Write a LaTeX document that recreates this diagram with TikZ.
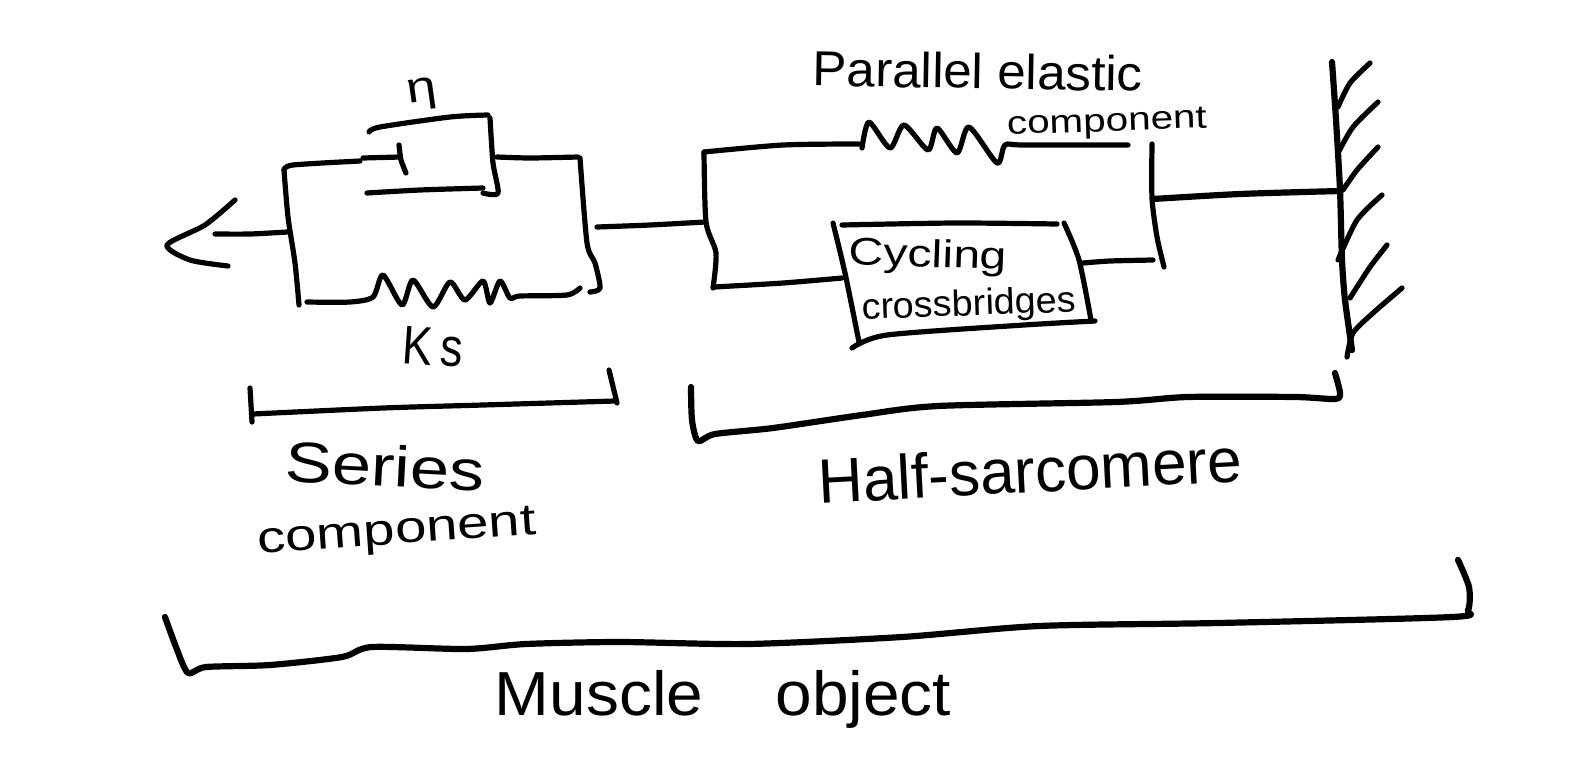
\documentclass[tikz,border=0pt]{standalone}
\usepackage{graphicx}
\usepackage{fontspec}
\setmainfont{Liberation Sans}
\tikzset{
  ink/.style={draw=black,line width=5.2pt,line cap=round,line join=round},
  inkb/.style={draw=black,line width=6.2pt,line cap=round,line join=round},
  hand/.style={inner sep=0pt,outer sep=0pt,text=black}
}
\newcommand{\lbl}[6]{\node[hand,rotate=#5] (#1) at (#2) {\resizebox*{#3pt}{#4pt}{#6}};}
\newcommand{\sk}[2][ink]{\draw[#1] plot[smooth,tension=.45] coordinates {#2};}
\begin{document}
\begin{tikzpicture}[x=1pt,y=-1pt]
\useasboundingbox (0,0) rectangle (1584,769);
\fill[white] (0,0) rectangle (1584,769);
% arrow at the free end
\sk{(235,200) (205,225) (167,245) (190,260) (228,266)}
\sk{(215,234) (250,234) (287,232)}
% series element frame
\sk{(284,170) (288,217) (295,263) (299,305)}
\sk{(284,170) (293,165) (360,161)}
\sk{(363,158) (400,157)}
\sk{(399,145) (401,160) (406,173)}
\sk{(369,132) (380,127) (450,117) (488,115)}
\sk{(490,118) (493,163) (498,193) (483,193)}
\sk{(367,193) (420,190) (483,188)}
\sk{(497,157) (530,158) (578,157)}
\sk{(580,158) (587,243) (595,263) (600,288) (590,292)}
\sk{(307,302) (350,302) (373,297) (383,275) (402,305) (413,280) (433,307) (450,282) (465,300) (483,281) (490,303) (500,281) (510,298) (520,296) (567,295) (580,288)}
\sk{(597,227) (650,225) (705,222)}
% half-sarcomere frame
\sk{(704,152) (706,222) (716,253) (713,288)}
\sk{(704,152) (783,145) (859,144)}
\sk{(862,148) (869,122) (890,148) (904,125) (928,150) (937,128) (957,153) (969,127) (997,163) (1005,145) (1024,145) (1128,145)}
\sk{(1152,144) (1152,198) (1157,237) (1164,267)}
\sk[inkb]{(1153,199) (1240,194) (1340,191)}
\sk{(833,223) (845,273) (859,342)}
\sk{(842,225) (955,223) (1057,224)}
\sk{(1064,223) (1079,260) (1091,320)}
\sk{(1095,321) (1024,325) (887,335) (852,348)}
\sk{(714,287) (783,283) (842,278)}
\sk{(1083,263) (1110,261) (1153,260)}
% wall
\sk[inkb]{(1332,62) (1336,120) (1340,190) (1342,260) (1345,300) (1352,350)}
\sk{(1370,63) (1350,83) (1338,107)}
\sk{(1378,102) (1353,127) (1338,153)}
\sk{(1378,147) (1357,170) (1343,190)}
\sk{(1382,195) (1357,220) (1338,260)}
\sk{(1387,245) (1370,267) (1350,298)}
\sk{(1402,288) (1373,313) (1353,333) (1347,357)}
% brackets
\sk{(250,388) (252,422)}
\sk{(253,414) (383,408) (483,405) (615,401)}
\sk{(609,370) (617,403)}
\sk[inkb]{(691,387) (692,420) (698,441) (715,434) (773,428) (862,415) (938,406) (1116,402) (1188,397) (1295,397) (1335,399) (1340,393) (1335,373)}
\sk[inkb]{(165,617) (176,647) (188,673) (206,667) (270,665) (342,657) (372,647) (466,649) (526,644) (620,642) (748,644) (902,637) (1039,626) (1218,623) (1452,617) (1468,610) (1469,587) (1458,560)}
% labels
\lbl{eta}{422,94}{30}{32}{8}{η}
\lbl{ks}{433,347}{60}{38}{-4}{K\,s}
\lbl{pec}{978,71}{330}{36}{-1}{Parallel elastic}
\lbl{pecb}{1107,124}{200}{28}{2}{component}
\lbl{cyc}{928,257}{158}{36}{-2}{Cycling}
\lbl{crb}{969,306}{214}{34}{2}{crossbridges}
\lbl{ser}{385,466}{200}{42}{-3}{Series}
\lbl{serb}{397,534}{279}{38}{4}{component}
\lbl{hs}{1030,470}{424}{46}{3}{Half-sarcomere}
\lbl{mo}{723,699}{456}{58}{0}{Muscle\hspace{1.1em}object}
\end{tikzpicture}
\end{document}
